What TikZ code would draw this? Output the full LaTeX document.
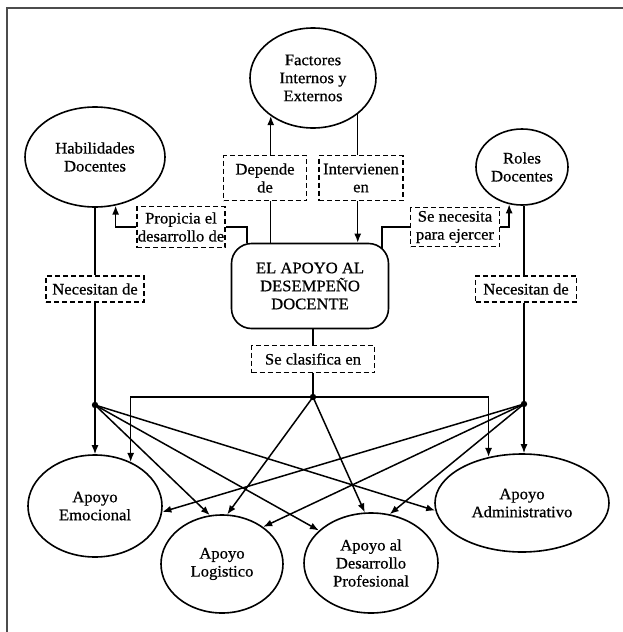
\documentclass[tikz,border=0pt]{standalone}
\usepackage{fontspec}
\setmainfont{Liberation Serif}[FakeStretch=1.04,FakeBold=0.6]
\usetikzlibrary{shapes.geometric,arrows.meta}
\begin{document}
\begin{tikzpicture}[x=1pt,y=-1pt,
  every node/.style={font=\fontsize{16}{18}\selectfont, align=center, inner sep=0pt},
  ell/.style={draw, ellipse, line width=1.6pt, fill=white},
  lbl/.style={draw, line width=1.5pt, dash pattern=on 5pt off 3pt, fill=white},
  ln/.style={line width=1.5pt},
  arr/.style={-{Latex[length=9pt,width=7pt]}}
]
\useasboundingbox (0,0) rectangle (623,632);
\draw[line width=2.2pt, black!70] (7,632) -- (7,8) -- (623,8);

% main nodes
\node[ell, minimum width=126pt, minimum height=100pt] (fact) at (313,78) {Factores\\Internos y\\Externos};
\node[ell, minimum width=140pt, minimum height=100pt] (hab) at (95,157) {Habilidades\\Docentes};
\node[ell, minimum width=92pt, minimum height=76pt] (roles) at (522,167) {Roles\\Docentes};
\node[draw, line width=1.6pt, rounded corners=20pt, minimum width=157pt, minimum height=85pt, fill=white] (cen) at (310,286) {EL APOYO AL\\DESEMPEÑO\\DOCENTE};
\node[ell, minimum width=134pt, minimum height=102pt] (emo) at (95,506) {Apoyo\\Emocional};
\node[ell, minimum width=122pt, minimum height=98pt] (log) at (222,564) {Apoyo\\Logistico};
\node[ell, minimum width=134pt, minimum height=100pt] (des) at (371,563) {Apoyo al\\Desarrollo\\Profesional};
\node[ell, minimum width=174pt, minimum height=98pt] (adm) at (522,503) {Apoyo\\Administrativo};

% dashed labels
\node[lbl, minimum width=83pt, minimum height=45pt] (dep) at (265,178) {Depende\\de};
\node[lbl, minimum width=84pt, minimum height=45pt] (int) at (361,178) {Intervienen\\en};
\node[lbl, minimum width=88pt, minimum height=41pt] (prop) at (181,227) {Propicia el\\desarrollo de};
\node[lbl, minimum width=89pt, minimum height=39pt] (senec) at (455,227) {Se necesita\\para ejercer};
\node[lbl, minimum width=98pt, minimum height=26pt] (necL) at (95,289) {Necesitan de};
\node[lbl, minimum width=101pt, minimum height=26pt] (necR) at (526,289) {Necesitan de};
\node[lbl, minimum width=123pt, minimum height=27pt] (clas) at (313,359) {Se clasifica en};

% junctions
\coordinate (dL) at (95,405);
\coordinate (dC) at (313,397);
\coordinate (dR) at (524,404);
\fill (dL) circle (3.2pt);
\fill (dC) circle (3.2pt);
\fill (dR) circle (3.2pt);

% top connectors
\draw[ln] (cen.north -| fact.222.8) -- (dep.south -| fact.222.8);
\draw[ln,arr] (dep.north -| fact.222.8) -- (fact.222.8);
\draw[ln] (fact.-39.1) -- (int.north -| fact.-39.1);
\draw[ln,arr] (int.south -| fact.-39.1) -- (cen.north -| fact.-39.1);
\coordinate (pA) at (247,227);
\draw[ln] (cen.north -| pA) -- (pA) -- (prop.east);
\draw[ln,arr] (prop.west) -| (hab.-67.3);
\coordinate (sA) at (382,249);
\coordinate (sB) at (382,227);
\draw[ln] (sA) -- (sB) -- (senec.west);
\draw[ln,arr] (senec.east) -| (roles.251.9);

% side connectors
\draw[ln] (hab.south) -- (necL.north);
\draw[ln] (necL.south) -- (dL);
\draw[ln,arr] (dL) -- (emo.north);
\draw[ln] (roles.south -| dR) -- (necR.north -| dR);
\draw[ln] (necR.south -| dR) -- (dR);
\draw[ln,arr] (dR) -- (adm.north -| dR);

% center connectors
\draw[ln] (cen.south -| clas) -- (clas.north);
\draw[ln] (clas.south) -- (dC);
\draw[ln,arr] (dC) -| (emo.51.2);
\draw[ln,arr] (dC) -| (adm.126.1);

% diagonals
\draw[ln,arr] (dC) -- (log.84.2);
\draw[ln,arr] (dC) -- (des.97.1);
\draw[ln,arr] (dL) -- (log.104.5);
\draw[ln,arr] (dL) -- (des.148.6);
\draw[ln,arr] (dL) -- (adm.185.7);
\draw[ln,arr] (dR) -- (emo.-5.9);
\draw[ln,arr] (dR) -- (log.42.2);
\draw[ln,arr] (dR) -- (des.69.2);
\end{tikzpicture}
\end{document}
